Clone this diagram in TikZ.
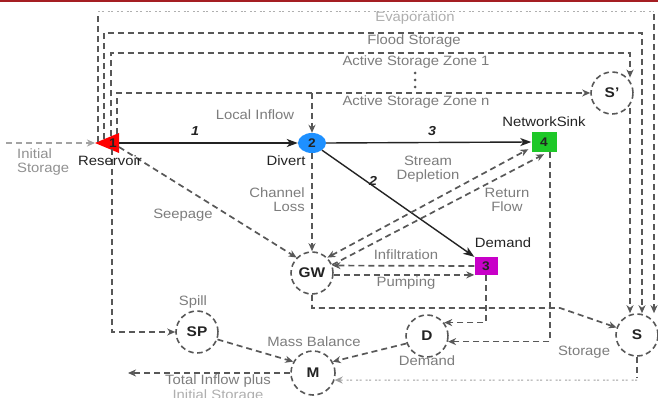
\documentclass[tikz,border=0pt]{standalone}
\usepackage{fontspec}
\setmainfont[FakeStretch=1.1]{Liberation Sans}
\usetikzlibrary{arrows.meta,shapes.geometric,calc}
\definecolor{lab}{RGB}{125,125,125}
\definecolor{dark}{RGB}{35,35,35}
\definecolor{ln}{RGB}{88,88,88}
\definecolor{faint}{RGB}{175,175,175}
\definecolor{topred}{RGB}{165,30,35}
\definecolor{divblue}{RGB}{30,144,255}
\definecolor{sinkgreen}{RGB}{30,200,40}
\definecolor{dmdmag}{RGB}{200,0,200}
\begin{document}
\begin{tikzpicture}[x=1pt,y=-1pt,
  lbl/.style={font=\fontsize{13.5}{14}\selectfont, text=lab, inner sep=0pt, align=center},
  dlbl/.style={lbl, text=dark},
  num/.style={font=\fontsize{13}{13}\selectfont\bfseries\itshape, text=dark, inner sep=0pt},
  dsh/.style={draw=ln, line width=1.7pt, dash pattern=on 6pt off 4pt},
  dotln/.style={draw=faint, line width=1pt, dash pattern=on 2pt off 1.5pt on 2pt off 4pt},
  arrw/.style={-{Stealth[length=8pt,width=7pt,inset=2.5pt]}},
  sol/.style={draw=dark, line width=1.4pt, -{Stealth[length=11pt,width=8pt,inset=3pt]}},
  bub/.style={circle, draw=ln, line width=1.6pt, dash pattern=on 5.5pt off 3.5pt,
    minimum size=42pt, inner sep=0pt, font=\fontsize{14}{14}\selectfont\bfseries, text=dark, fill=white},
  colnode/.style={inner sep=0pt, font=\fontsize{12.5}{12.5}\selectfont\bfseries, text=dark}
]
\useasboundingbox (0,0) rectangle (658,398);
\clip (0,0) rectangle (658,398);
\fill[white] (0,0) rectangle (658,398);
\fill[topred] (0,0) rectangle (658,2.5);

% nodes
\fill[red] (95,143) -- (119,133) -- (119,153) -- cycle;
\node[colnode] (res) at (113,143) {1};
\node[ellipse, fill=divblue, minimum width=28pt, minimum height=20pt, colnode] (div) at (312,143) {2};
\node[rectangle, fill=sinkgreen, minimum width=25pt, minimum height=20pt, colnode] (sink) at (544,142) {4};
\node[rectangle, fill=dmdmag, minimum width=23pt, minimum height=18pt, colnode] (dem) at (486,266) {3};
\node[bub] (GW) at (312,273) {GW};
\node[bub] (SP) at (197,332) {SP};
\node[bub, minimum size=44pt] (M) at (313,373) {M};
\node[bub] (D) at (427,336) {D};
\node[bub] (S) at (637,335) {S};
\node[bub] (Sp) at (612,93) {S’};

% storage zone lines
\draw[dsh] (98,141.7) -- (98,14);
\draw[dotln] (98,12) -- (654,12);
\draw[dsh, arrw] (654,14) -- (654,0 |- S.north);
\draw[dsh, arrw] (104,139.2) |- (642,33) -- (642,0 |- S.north);
\draw[dsh, arrw] (111,136.3) |- (630,53) -- (630,0 |- Sp.north east);
\draw[dsh, arrw] (117,133.8) |- (Sp.west);
\draw[dsh, arrw] (630,0 |- Sp.south east) -- (630,0 |- S.north);

% flows
\draw[dsh, arrw, draw=ln!55] (6,143) -- (95,143);
\draw[dsh, arrw] (312,93) -- (div.north);
\draw[sol] (119,143) -- (div.west);
\draw[sol] (div.east) -- (sink.west);
\draw[sol] (div.south east) -- (dem.north west);
\draw[dsh, arrw] (div.south) -- (GW.north);
\draw[dsh, arrw] (119,147) -- (GW.north west);
\draw[dsh, arrw] (112,149) |- (SP.west);
\draw[dsh, {Stealth[length=8pt,width=7pt,inset=2.5pt]}-{Stealth[length=8pt,width=7pt,inset=2.5pt]}] (GW.north east) -- ($(sink.south west)+(-3,-3)$);
\draw[dsh, arrw] (GW.22) -- ($(sink.south)+(0,2)$);
\draw[dsh, arrw] (dem.west) -- (GW.20);
\draw[dsh, arrw] (GW.-5) -- (GW.-5 -| dem.west);
\draw[dsh, arrw] (GW.south) |- (560,308) -- (S.160);
\draw[dsh, arrw] (550,0 |- sink.south) |- (D.-15);
\draw[dsh, arrw] (dem.south) |- (D.38);
\draw[dsh, arrw] (D.200) -- (M.30);
\draw[dsh, arrw] (SP.-20) -- (M.150);
\coordinate (tot) at (128,373);
\draw[dsh, arrw] (M.west) -- (tot);
\draw[dsh] (S.south) -- (637,377);
\draw[dotln, draw=gray!75, arrw] (637,380) -- (M.-18);

% vertical dots between zones
\foreach \yy in {73,80,87} \fill[ln] (415,\yy) circle (1.5);

% labels
\node[lbl, text=faint] at (415,18) {Evaporation};
\node[lbl] at (414,41) {Flood Storage};
\node[lbl] at (416,62) {Active Storage Zone 1};
\node[lbl] at (416,102) {Active Storage Zone n};
\node[lbl] at (255,115) {Local Inflow};
\node[num] at (195,131) {1};
\node[num] at (432,131) {3};
\node[num] at (373,181) {2};
\node[dlbl] at (544,122) {NetworkSink};
\node[lbl, align=left, anchor=north west, text=lab!85] at (17,149) {Initial\\Storage};
\node[dlbl] at (110,161) {Reservoir};
\node[dlbl] at (286,161) {Divert};
\node[lbl] at (428,169) {Stream\\Depletion};
\node[lbl, align=right, anchor=east] at (305,200) {Channel\\Loss};
\node[lbl] at (507,200) {Return\\Flow};
\node[lbl] at (183,215) {Seepage};
\node[dlbl] at (503,243) {Demand};
\node[lbl] at (406,255) {Infiltration};
\node[lbl] at (406,283) {Pumping};
\node[lbl] at (193,302) {Spill};
\node[lbl] at (314,342) {Mass Balance};
\node[lbl] at (584,352) {Storage};
\node[lbl] at (427,361) {Demand};
\node[lbl] at (218,381) {Total Inflow plus};
\node[lbl, text=faint] at (218,396) {Initial Storage};
\end{tikzpicture}
\end{document}
